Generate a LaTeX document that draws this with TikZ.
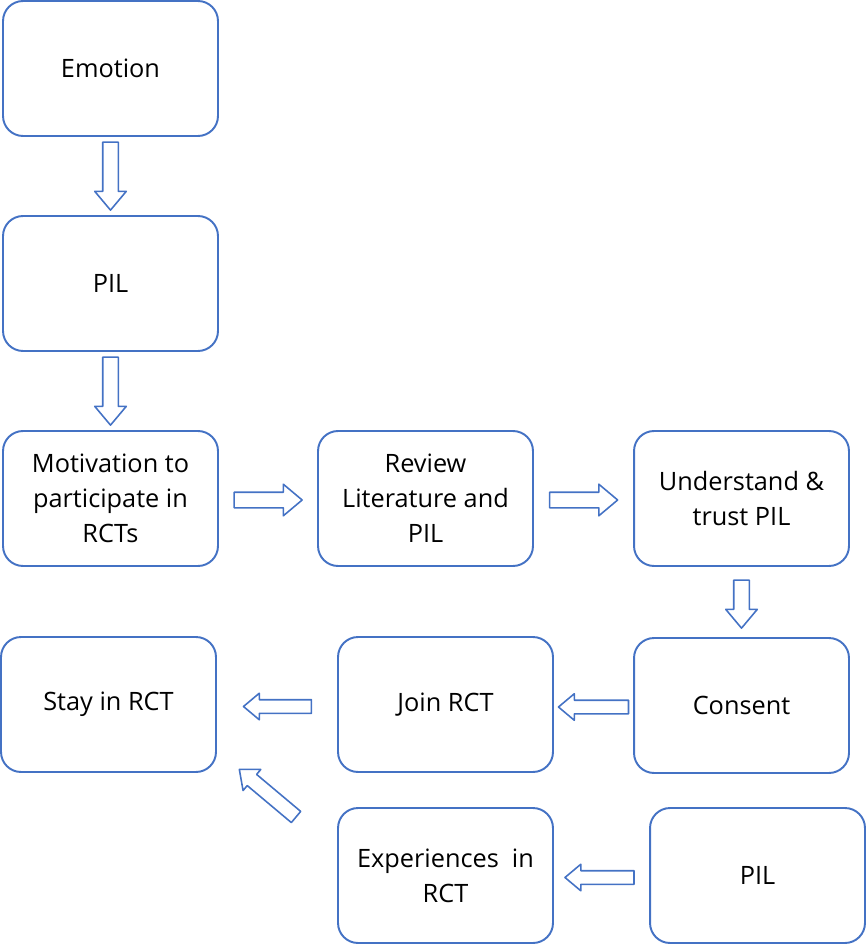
\documentclass[tikz,border=0pt]{standalone}
\usepackage{fontspec}
\setmainfont{Open Sans}
\usetikzlibrary{shapes.arrows,calc}
\definecolor{boxblue}{HTML}{4472C4}
\begin{document}
\begin{tikzpicture}[x=0.02cm,y=-0.02cm,line join=round,
  box/.style={draw=boxblue,line width=1.1pt,rounded corners=0.4cm,minimum width=4.3cm,minimum height=2.7cm,align=center,font=\fontsize{14.4}{20}\selectfont},
  bigarrow/.style={draw=boxblue,line width=0.9pt,single arrow,single arrow head extend=0.16cm,single arrow tip angle=80,inner xsep=0pt,inner ysep=0.14cm,minimum width=0pt,minimum height=1.36cm},
  smallarrow/.style={bigarrow,single arrow head extend=0.13cm,inner ysep=0.12cm,minimum height=1.4cm}]
  \useasboundingbox (0,0) rectangle (866,945);
  \node[box] (emotion) at (110.5,68.5) {Emotion};
  \node[box] (pil1) at (110.5,283.5) {PIL};
  \node[box] (motiv) at (110.5,498.5) {Motivation to\\participate in\\RCTs};
  \node[box] (review) at (425.5,498.5) {Review\\Literature and\\PIL};
  \node[box] (trust) at (741.5,498.5) {Understand \&\\trust PIL};
  \node[box] (consent) at (741.5,705.5) {Consent};
  \node[box] (join) at (445.5,704.5) {Join RCT};
  \node[box] (stay) at (108.5,704.5) {Stay in RCT};
  \node[box] (exper) at (445.5,875.5) {Experiences~ in\\RCT};
  \node[box] (pil2) at (757.5,875.5) {PIL};
  \node[bigarrow,rotate=-90] (a1) at ($(emotion.south)!0.5!(pil1.north)+(0,-4.5)$) {};
  \node[bigarrow,rotate=-90] (a2) at ($(pil1.south)!0.5!(motiv.north)+(0,-4.5)$) {};
  \node[bigarrow] (a3) at ($(motiv.east)!0.5!(review.west)+(-4.5,1.5)$) {};
  \node[bigarrow] (a4) at ($(review.east)!0.5!(trust.west)+(-4.5,1.5)$) {};
  \node[bigarrow,rotate=-90,minimum height=0.96cm] (a5) at ($(trust.south)!0.5!(consent.north)+(0,-2.5)$) {};
  \node[smallarrow,rotate=180] (a6) at ($(consent.west)!0.5!(join.east)+(4,2)$) {};
  \node[smallarrow,rotate=180,minimum height=1.36cm] (a7) at ($(join.west)!0.5!(stay.east)+(4.5,2)$) {};
  \node[smallarrow,rotate=180,minimum height=1.38cm] (a8) at ($(pil2.west)!0.5!(exper.east)+(2,2)$) {};
  \node[smallarrow,rotate=140,minimum height=1.48cm,inner ysep=0.13cm] (a9) at (271,796) {};
\end{tikzpicture}
\end{document}
